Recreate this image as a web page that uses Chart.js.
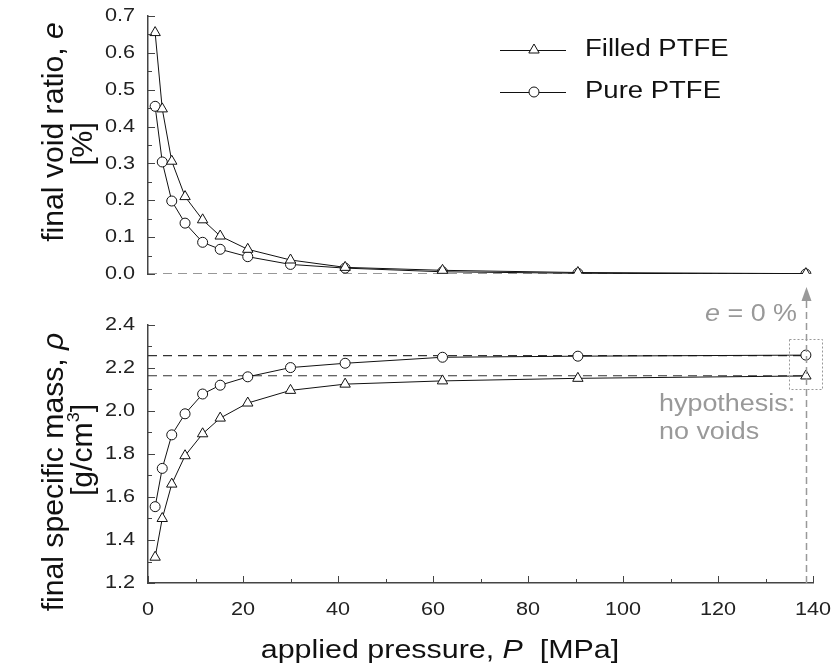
<!DOCTYPE html>
<html>
<head>
<meta charset="utf-8">
<style>
  body { margin: 0; background: #fff; }
  #wrap { position: relative; width: 833px; height: 670px; }
  #wrap canvas { position: absolute; left: 0; }
</style>
</head>
<body>
<div id="wrap">
  <canvas id="top" width="833" height="300" style="top:0"></canvas>
  <canvas id="bot" width="833" height="390" style="top:280px"></canvas>
</div>
<script src="https://cdn.jsdelivr.net/npm/chart.js"></script>
<script>
// applied pressure P [MPa], shared by both series
const pressure   = [1.5, 3, 5, 7.8, 11.5, 15.2, 21, 30, 41.5, 62, 90.5, 138.5];
// final void ratio e [%]
const voidFilled = [0.655, 0.448, 0.306, 0.21, 0.147, 0.103, 0.067, 0.038, 0.018, 0.01, 0.004, 0.001];
const voidPure   = [0.455, 0.304, 0.198, 0.138, 0.086, 0.067, 0.047, 0.026, 0.016, 0.006, 0.002, 0.0];
// final specific mass rho [g/cm3]
const rhoFilled  = [1.32, 1.50, 1.66, 1.792, 1.894, 1.967, 2.037, 2.096, 2.125, 2.14, 2.152, 2.163];
const rhoPure    = [1.555, 1.733, 1.889, 1.987, 2.079, 2.12, 2.159, 2.202, 2.222, 2.25, 2.255, 2.26];
// no-void reference densities (dashed) and e = 0 line
const rhoNoVoid  = [2.258, 2.164];
const voidZero   = 0;
const refRange   = [0, 138.5];
const seriesNames = ['Filled PTFE', 'Pure PTFE'];

const FONT = "'Liberation Sans', Arial, sans-serif";
const SX = 1.17;            // horizontal text in the original is a bit wide
const RX = 1.04;            // rotated titles, along the baseline
const PLOT_LEFT = 148, PLOT_RIGHT = 20;

const pts = ys => pressure.map((x, i) => ({x, y: ys[i]}));
const series = (label, ys, style, r) => ({
  label, data: pts(ys), borderColor: '#111', borderWidth: 1,
  pointStyle: style, pointRadius: r, pointBackgroundColor: '#fff',
  pointBorderColor: '#111', pointBorderWidth: 1, tension: 0, order: 1
});
const refLine = y => ({
  data: refRange.map(x => ({x, y})), borderColor: '#333', borderWidth: 1.2,
  borderDash: [9, 6], pointRadius: 0, order: 2
});

// text made of parts [text, italic, sup]; anchor 'center' | 'right' | 'left'
function stext(ctx, list, x, y, size, color, anchor = 'center', rot = false) {
  const f = (it, s) => (it ? 'italic ' : '') + s + 'px ' + FONT;
  let w = 0;
  list.forEach(([t, it, sup]) => { ctx.font = f(it, sup ? size * 0.6 : size); w += ctx.measureText(t).width; });
  ctx.save();
  ctx.translate(x, y);
  if (rot) { ctx.rotate(-Math.PI / 2); ctx.scale(RX, 1); } else ctx.scale(SX, 1);
  let cx = anchor === 'center' ? -w / 2 : anchor === 'right' ? -w : 0;
  ctx.fillStyle = color; ctx.textBaseline = 'middle'; ctx.textAlign = 'left';
  list.forEach(([t, it, sup]) => {
    ctx.font = f(it, sup ? size * 0.6 : size);
    ctx.fillText(t, cx, sup ? -size * 0.35 : 0);
    cx += ctx.measureText(t).width;
  });
  ctx.restore();
}

// inward ticks (major + minor), tick labels and hand drawn titles
const inner = {
  id: 'inner',
  afterDraw(chart, args, o) {
    const ctx = chart.ctx, a = chart.chartArea;
    ctx.save();
    ctx.strokeStyle = '#444'; ctx.lineWidth = 1;
    const ys = chart.scales.y;
    for (let v = ys.min, k = 0; v <= ys.max + 1e-9; v += o.yStep / 2, k++) {
      const p = Math.round(ys.getPixelForValue(v)) + 0.5;
      ctx.beginPath(); ctx.moveTo(a.left, p); ctx.lineTo(a.left + (k % 2 ? 4 : 7), p); ctx.stroke();
    }
    ys.ticks.forEach(t => stext(ctx, [[t.value.toFixed(1)]], a.left - 13, ys.getPixelForValue(t.value), 18.5, '#222', 'right'));
    if (o.xTicks) {
      const xs = chart.scales.x;
      for (let v = xs.min, k = 0; v <= xs.max + 1e-9; v += 10, k++) {
        const p = Math.round(xs.getPixelForValue(v)) + 0.5;
        ctx.beginPath(); ctx.moveTo(p, a.bottom); ctx.lineTo(p, a.bottom - (k % 2 ? 4 : 7)); ctx.stroke();
      }
      xs.ticks.forEach(t => stext(ctx, [[String(t.value)]], xs.getPixelForValue(t.value), a.bottom + 27, 18.5, '#222'));
    }
    ctx.restore();
    if (o.draw) o.draw(chart, ctx);
  }
};

const yAxis = (min, max, step) => ({
  min, max, afterFit: s => { s.width = PLOT_LEFT; },
  ticks: { stepSize: step, display: false },
  grid: { display: false, drawTicks: false },
  border: { display: true, color: '#444', width: 1.5 }
});

new Chart(document.getElementById('top'), {
  type: 'line',
  data: { datasets: [
    series(seriesNames[0], voidFilled, 'triangle', 6),
    series(seriesNames[1], voidPure, 'circle', 5),
    refLine(voidZero)
  ]},
  options: {
    responsive: false, animation: false,
    layout: { padding: { top: 16, bottom: 26, left: 0, right: PLOT_RIGHT } },
    plugins: { legend: {display: false}, tooltip: {enabled: false},
      inner: { yStep: 0.1, xTicks: false, draw(chart, ctx) {
        stext(ctx, [['final void ratio, '], ['e', true]], 55, 132, 29, '#111', 'center', true);
        stext(ctx, [['[%]']], 84, 144, 29, '#111', 'center', true);
        // legend
        const items = [[0, 'triangle', 6, 50], [1, 'circle', 5, 92]];
        items.forEach(([i, st, r, y]) => {
          ctx.strokeStyle = '#111'; ctx.lineWidth = 1;
          ctx.beginPath(); ctx.moveTo(500, y + 0.5); ctx.lineTo(566, y + 0.5); ctx.stroke();
          ctx.fillStyle = '#fff'; ctx.strokeStyle = '#111';
          Chart.helpers.drawPoint(ctx, {pointStyle: st, radius: r, borderWidth: 1}, 534, y);
          stext(ctx, [[seriesNames[i]]], 585, y, 23.5, '#111', 'left');
        });
      }}
    },
    scales: {
      x: { type: 'linear', min: 0, max: 140, display: false },
      y: yAxis(0, 0.7, 0.1)
    }
  },
  plugins: [inner]
});

new Chart(document.getElementById('bot'), {
  type: 'line',
  data: { datasets: [
    series(seriesNames[0], rhoFilled, 'triangle', 6),
    series(seriesNames[1], rhoPure, 'circle', 5),
    refLine(rhoNoVoid[0]), refLine(rhoNoVoid[1])
  ]},
  options: {
    responsive: false, animation: false,
    layout: { padding: { top: 45, bottom: 0, left: 0, right: PLOT_RIGHT } },
    plugins: { legend: {display: false}, tooltip: {enabled: false},
      inner: { yStep: 0.2, xTicks: true, draw(chart, ctx) {
        const xs = chart.scales.x, ys = chart.scales.y;
        stext(ctx, [['final specific mass, '], ['ρ', true]], 55, 472 - 280, 29, '#111', 'center', true);
        stext(ctx, [['[g/cm'], ['3', false, true], [']']], 84, 450 - 280, 29, '#111', 'center', true);
        stext(ctx, [['applied pressure, '], ['P', true], ['  [MPa]']], 440, 651 - 280, 26, '#111');
        // hypothesis arrow at the last pressure
        const px = Math.round(xs.getPixelForValue(pressure[pressure.length - 1])) + 0.5;
        ctx.save();
        ctx.strokeStyle = '#999'; ctx.fillStyle = '#999'; ctx.lineWidth = 1.5; ctx.setLineDash([7, 4]);
        ctx.beginPath(); ctx.moveTo(px, chart.chartArea.bottom); ctx.lineTo(px, 18); ctx.stroke();
        ctx.setLineDash([]);
        ctx.beginPath(); ctx.moveTo(px, 7); ctx.lineTo(px - 5, 21); ctx.lineTo(px + 5, 21); ctx.closePath(); ctx.fill();
        // dotted box round the no-void points
        const yt = ys.getPixelForValue(rhoPure[rhoPure.length - 1]) - 16;
        const yb = ys.getPixelForValue(rhoFilled[rhoFilled.length - 1]) + 13;
        ctx.strokeStyle = '#999'; ctx.lineWidth = 1; ctx.setLineDash([2, 2]);
        ctx.strokeRect(px - 17, Math.round(yt) + 0.5, 33, Math.round(yb - yt));
        ctx.restore();
        stext(ctx, [['e', true], [' = 0 %']], 797, 315 - 280, 23, '#999', 'right');
        stext(ctx, [['hypothesis:']], 659, 405 - 280, 23, '#999', 'left');
        stext(ctx, [['no voids']], 659, 433 - 280, 23, '#999', 'left');
      }}
    },
    scales: {
      x: { type: 'linear', min: 0, max: 140,
        afterFit: s => { s.height = 87; },
        ticks: { stepSize: 20, display: false },
        grid: { display: false, drawTicks: false },
        border: { display: true, color: '#444', width: 1.5 } },
      y: yAxis(1.2, 2.4, 0.2)
    }
  },
  plugins: [inner]
});
</script>
</body>
</html>
